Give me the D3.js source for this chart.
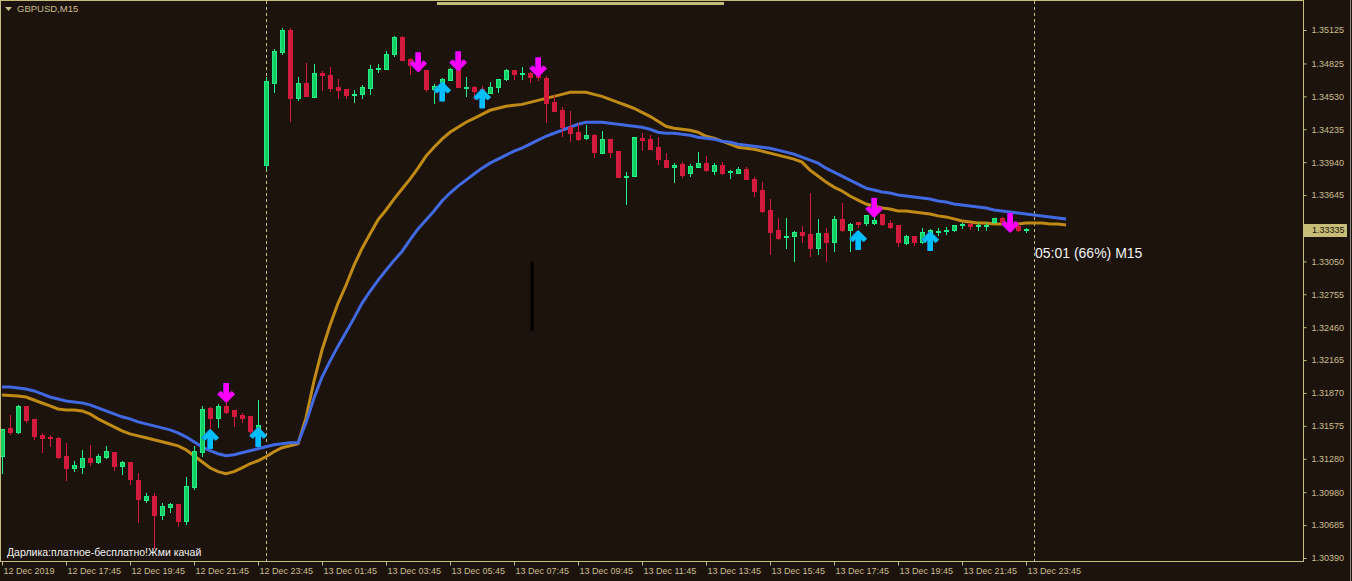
<!DOCTYPE html>
<html>
<head>
<meta charset="utf-8">
<script src="https://cdn.jsdelivr.net/npm/d3@7"></script>
<style>
  body { margin: 0; background: #1b130c; overflow: hidden; }
  svg { display: block; }
</style>
</head>
<body>
<svg id="chart"></svg>
<script>
// Colours of the terminal theme
const palette = {
  bg: "#1b130c",
  frame: "#c6bd7b",
  text: "#cbbd8c",
  bullFill: "#15cf62",
  bullLine: "#22f088",
  bear: "#d41a3c",
  maFast: "#c08b14",
  maSlow: "#4169e1",
  sell: "#ff00ff",
  sellEdge: "#9a18d0",
  buy: "#00bfff",
  buyEdge: "#1a78c8",
  white: "#f2f2f2"
};

// GBPUSD M15, first bar 12 Dec 2019 15:45, one bar per 15 minutes
const firstBar = "2019-12-12 15:45";

// [open, high, low, close]
const ohlc = [
  [1.31298, 1.31539, 1.31146, 1.31539], [1.31548, 1.31673, 1.31494, 1.31512],
  [1.31512, 1.31763, 1.31503, 1.31745], [1.31745, 1.31754, 1.31602, 1.31620],
  [1.31629, 1.31629, 1.31450, 1.31477], [1.31485, 1.31512, 1.31334, 1.31459],
  [1.31468, 1.31494, 1.31387, 1.31459], [1.31459, 1.31477, 1.31280, 1.31289],
  [1.31298, 1.31423, 1.31083, 1.31190], [1.31190, 1.31262, 1.31164, 1.31217],
  [1.31199, 1.31361, 1.31146, 1.31280], [1.31280, 1.31405, 1.31217, 1.31244],
  [1.31244, 1.31325, 1.31235, 1.31298], [1.31289, 1.31396, 1.31280, 1.31343],
  [1.31334, 1.31334, 1.31173, 1.31208], [1.31208, 1.31262, 1.31137, 1.31244],
  [1.31244, 1.31244, 1.31047, 1.31092], [1.31083, 1.31155, 1.30703, 1.30917],
  [1.30908, 1.30971, 1.30882, 1.30944], [1.30944, 1.30971, 1.30471, 1.30775],
  [1.30775, 1.30882, 1.30730, 1.30855], [1.30846, 1.30882, 1.30793, 1.30873],
  [1.30873, 1.30873, 1.30667, 1.30721], [1.30721, 1.31114, 1.30685, 1.31034],
  [1.31025, 1.31396, 1.30998, 1.31343], [1.31334, 1.31754, 1.31298, 1.31718],
  [1.31727, 1.31745, 1.31539, 1.31638], [1.31638, 1.31772, 1.31557, 1.31745],
  [1.31745, 1.31790, 1.31682, 1.31691], [1.31709, 1.31709, 1.31566, 1.31656],
  [1.31664, 1.31691, 1.31602, 1.31638], [1.31656, 1.31664, 1.31494, 1.31521],
  [1.31450, 1.31807, 1.31432, 1.31575], [1.33913, 1.34700, 1.33868, 1.34664],
  [1.34646, 1.34959, 1.34557, 1.34932], [1.34923, 1.35143, 1.34905, 1.35125],
  [1.35125, 1.35143, 1.34298, 1.34512], [1.34512, 1.34700, 1.34485, 1.34646],
  [1.34646, 1.34825, 1.34530, 1.34530], [1.34521, 1.34816, 1.34512, 1.34736],
  [1.34736, 1.34754, 1.34575, 1.34718], [1.34718, 1.34789, 1.34566, 1.34602],
  [1.34611, 1.34682, 1.34503, 1.34584], [1.34593, 1.34593, 1.34503, 1.34539],
  [1.34539, 1.34584, 1.34467, 1.34548], [1.34548, 1.34628, 1.34503, 1.34611],
  [1.34602, 1.34807, 1.34539, 1.34772], [1.34772, 1.34816, 1.34736, 1.34780],
  [1.34772, 1.34941, 1.34763, 1.34905], [1.34905, 1.35071, 1.34879, 1.35062],
  [1.35062, 1.35071, 1.34852, 1.34852], [1.34861, 1.34870, 1.34718, 1.34807],
  [1.34798, 1.34816, 1.34745, 1.34763], [1.34763, 1.34763, 1.34566, 1.34593],
  [1.34593, 1.34637, 1.34458, 1.34620], [1.34620, 1.34691, 1.34584, 1.34682],
  [1.34673, 1.34780, 1.34664, 1.34772], [1.34772, 1.34789, 1.34611, 1.34611],
  [1.34602, 1.34700, 1.34521, 1.34611], [1.34611, 1.34620, 1.34494, 1.34575],
  [1.34593, 1.34620, 1.34548, 1.34575], [1.34557, 1.34655, 1.34548, 1.34611],
  [1.34611, 1.34682, 1.34557, 1.34682], [1.34682, 1.34772, 1.34664, 1.34763],
  [1.34763, 1.34763, 1.34673, 1.34727], [1.34727, 1.34789, 1.34673, 1.34736],
  [1.34736, 1.34745, 1.34646, 1.34700], [1.34709, 1.34718, 1.34664, 1.34700],
  [1.34691, 1.34709, 1.34289, 1.34467], [1.34476, 1.34539, 1.34396, 1.34396],
  [1.34405, 1.34432, 1.34163, 1.34253], [1.34253, 1.34396, 1.34119, 1.34199],
  [1.34208, 1.34289, 1.34128, 1.34146], [1.34155, 1.34271, 1.34137, 1.34181],
  [1.34181, 1.34190, 1.33976, 1.34030], [1.34021, 1.34217, 1.34012, 1.34146],
  [1.34146, 1.34146, 1.33976, 1.34030], [1.34039, 1.34039, 1.33806, 1.33806],
  [1.33806, 1.33850, 1.33555, 1.33815], [1.33815, 1.34163, 1.33806, 1.34163],
  [1.34155, 1.34199, 1.34039, 1.34137], [1.34146, 1.34181, 1.34048, 1.34056],
  [1.34074, 1.34163, 1.33913, 1.33967], [1.33958, 1.34021, 1.33886, 1.33895],
  [1.33895, 1.33931, 1.33752, 1.33913], [1.33922, 1.33940, 1.33797, 1.33824],
  [1.33842, 1.33922, 1.33806, 1.33904], [1.33895, 1.34030, 1.33886, 1.33931],
  [1.33931, 1.33994, 1.33850, 1.33868], [1.33859, 1.33931, 1.33824, 1.33913],
  [1.33913, 1.33940, 1.33824, 1.33842], [1.33850, 1.33868, 1.33788, 1.33859],
  [1.33842, 1.33895, 1.33842, 1.33877], [1.33877, 1.33895, 1.33788, 1.33788],
  [1.33788, 1.33806, 1.33627, 1.33681], [1.33690, 1.33761, 1.33484, 1.33493],
  [1.33502, 1.33609, 1.33104, 1.33305], [1.33323, 1.33440, 1.33243, 1.33252],
  [1.33261, 1.33440, 1.33162, 1.33270], [1.33270, 1.33323, 1.33041, 1.33305],
  [1.33305, 1.33368, 1.33216, 1.33279], [1.33288, 1.33663, 1.33086, 1.33162],
  [1.33162, 1.33431, 1.33104, 1.33297], [1.33297, 1.33350, 1.33041, 1.33216],
  [1.33216, 1.33458, 1.33131, 1.33422], [1.33422, 1.33573, 1.33314, 1.33323],
  [1.33323, 1.33395, 1.33131, 1.33377], [1.33395, 1.33404, 1.33350, 1.33377],
  [1.33386, 1.33466, 1.33368, 1.33458], [1.33386, 1.33466, 1.33377, 1.33413],
  [1.33466, 1.33466, 1.33368, 1.33377], [1.33386, 1.33422, 1.33341, 1.33350],
  [1.33368, 1.33368, 1.33175, 1.33216], [1.33207, 1.33288, 1.33198, 1.33270],
  [1.33270, 1.33270, 1.33189, 1.33216], [1.33216, 1.33350, 1.33207, 1.33305],
  [1.33297, 1.33341, 1.33279, 1.33323], [1.33305, 1.33350, 1.33279, 1.33314],
  [1.33314, 1.33359, 1.33288, 1.33323], [1.33323, 1.33377, 1.33314, 1.33368],
  [1.33368, 1.33395, 1.33341, 1.33377], [1.33377, 1.33395, 1.33332, 1.33359],
  [1.33359, 1.33395, 1.33323, 1.33368], [1.33359, 1.33395, 1.33323, 1.33368],
  [1.33395, 1.33440, 1.33386, 1.33431], [1.33431, 1.33449, 1.33377, 1.33395],
  [1.33404, 1.33422, 1.33350, 1.33368], [1.33359, 1.33368, 1.33314, 1.33323],
  [1.33332, 1.33350, 1.33305, 1.33335]
];

// moving averages as drawn (shifted 5 bars forward), one value per bar from the first bar
const maFast = [
  1.31852, 1.31848, 1.31843, 1.31834, 1.31807, 1.31780, 1.31754, 1.31727, 1.31718, 1.31718,
  1.31709, 1.31682, 1.31638, 1.31602, 1.31566, 1.31530, 1.31503, 1.31485, 1.31468, 1.31450,
  1.31432, 1.31414, 1.31396, 1.31361, 1.31307, 1.31253, 1.31199, 1.31164, 1.31146, 1.31164,
  1.31199, 1.31235, 1.31262, 1.31298, 1.31343, 1.31379, 1.31396, 1.31414, 1.31647, 1.31977,
  1.32255, 1.32478, 1.32674, 1.32836, 1.33014, 1.33166, 1.33296, 1.33422, 1.33511, 1.33609,
  1.33699, 1.33788, 1.33886, 1.33994, 1.34074, 1.34146, 1.34208, 1.34253, 1.34298, 1.34333,
  1.34369, 1.34405, 1.34423, 1.34441, 1.34450, 1.34458, 1.34476, 1.34494, 1.34512, 1.34530,
  1.34548, 1.34566, 1.34566, 1.34566, 1.34548, 1.34530, 1.34503, 1.34476, 1.34450, 1.34423,
  1.34387, 1.34351, 1.34307, 1.34262, 1.34244, 1.34235, 1.34226, 1.34208, 1.34172, 1.34155,
  1.34128, 1.34101, 1.34074, 1.34065, 1.34056, 1.34039, 1.34021, 1.34003, 1.33985, 1.33967,
  1.33940, 1.33868, 1.33815, 1.33761, 1.33716, 1.33681, 1.33636, 1.33600, 1.33564, 1.33546,
  1.33529, 1.33520, 1.33502, 1.33502, 1.33493, 1.33484, 1.33475, 1.33458, 1.33449, 1.33431,
  1.33413, 1.33404, 1.33395, 1.33395, 1.33386, 1.33386, 1.33386, 1.33386, 1.33395, 1.33395,
  1.33395, 1.33386, 1.33386, 1.33377
];

const maSlow = [
  1.31924, 1.31924, 1.31915, 1.31906, 1.31888, 1.31861, 1.31834, 1.31816, 1.31798, 1.31790,
  1.31781, 1.31763, 1.31736, 1.31709, 1.31682, 1.31656, 1.31638, 1.31611, 1.31593, 1.31575,
  1.31557, 1.31539, 1.31512, 1.31477, 1.31432, 1.31387, 1.31352, 1.31325, 1.31307, 1.31316,
  1.31334, 1.31352, 1.31370, 1.31387, 1.31405, 1.31414, 1.31423, 1.31423, 1.31602, 1.31825,
  1.32013, 1.32156, 1.32290, 1.32415, 1.32541, 1.32674, 1.32782, 1.32880, 1.32970, 1.33059,
  1.33139, 1.33243, 1.33341, 1.33422, 1.33502, 1.33591, 1.33663, 1.33725, 1.33779, 1.33833,
  1.33886, 1.33931, 1.33967, 1.34003, 1.34039, 1.34065, 1.34101, 1.34137, 1.34172, 1.34199,
  1.34226, 1.34253, 1.34280, 1.34298, 1.34298, 1.34298, 1.34289, 1.34280, 1.34271, 1.34262,
  1.34253, 1.34235, 1.34208, 1.34199, 1.34199, 1.34190, 1.34181, 1.34163, 1.34155, 1.34146,
  1.34128, 1.34119, 1.34101, 1.34092, 1.34083, 1.34074, 1.34065, 1.34048, 1.34030, 1.34012,
  1.33985, 1.33958, 1.33931, 1.33886, 1.33850, 1.33815, 1.33779, 1.33743, 1.33707, 1.33690,
  1.33672, 1.33663, 1.33645, 1.33636, 1.33627, 1.33618, 1.33609, 1.33591, 1.33582, 1.33564,
  1.33555, 1.33546, 1.33538, 1.33529, 1.33511, 1.33502, 1.33493, 1.33484, 1.33475, 1.33466,
  1.33458, 1.33449, 1.33440, 1.33431
];

// signal arrows: bar number and price of the arrow tip
const sellArrows = [
  { bar: 28, price: 1.31780 }, { bar: 52, price: 1.34745 }, { bar: 57, price: 1.34754 },
  { bar: 67, price: 1.34700 }, { bar: 109, price: 1.33440 }, { bar: 126, price: 1.33305 }
];
const buyArrows = [
  { bar: 26, price: 1.31548 }, { bar: 32, price: 1.31566 }, { bar: 55, price: 1.34664 },
  { bar: 60, price: 1.34602 }, { bar: 107, price: 1.33332 }, { bar: 116, price: 1.33323 }
];

const xTickTimes = [
  "2019-12-12 15:45", "2019-12-12 17:45", "2019-12-12 19:45", "2019-12-12 21:45",
  "2019-12-12 23:45", "2019-12-13 01:45", "2019-12-13 03:45", "2019-12-13 05:45",
  "2019-12-13 07:45", "2019-12-13 09:45", "2019-12-13 11:45", "2019-12-13 13:45",
  "2019-12-13 15:45", "2019-12-13 17:45", "2019-12-13 19:45", "2019-12-13 21:45",
  "2019-12-13 23:45"
];
const xTickLabels = [
  "12 Dec 2019", "12 Dec 17:45", "12 Dec 19:45", "12 Dec 21:45", "12 Dec 23:45",
  "13 Dec 01:45", "13 Dec 03:45", "13 Dec 05:45", "13 Dec 07:45", "13 Dec 09:45",
  "13 Dec 11:45", "13 Dec 13:45", "13 Dec 15:45", "13 Dec 17:45", "13 Dec 19:45",
  "13 Dec 21:45", "13 Dec 23:45"
];
const yTickLabels = [
  "1.35125", "1.34825", "1.34530", "1.34235", "1.33940", "1.33645", "1.33050",
  "1.32755", "1.32460", "1.32165", "1.31870", "1.31575", "1.31280", "1.30980",
  "1.30685", "1.30390"
];

const daySeparators = ["2019-12-13 00:00", "2019-12-14 00:00"];
const lastPrice = 1.33335;
const vLine = { time: "2019-12-13 08:19", top: 1.33050, bottom: 1.32424 };

// Chart dimensions
const W = 1352, H = 581;
const plot = { left: 0, top: 0, right: 1303, bottom: 561 };
const font = "'Liberation Sans', Arial, sans-serif";

const parseTime = d3.timeParse("%Y-%m-%d %H:%M");
const t0 = parseTime(firstBar);
const barTime = i => d3.timeMinute.offset(t0, 15 * i);

const svg = d3.select("#chart")
  .attr("width", W)
  .attr("height", H)
  .style("background", palette.bg);

const x = d3.scaleTime()
  .domain([d3.timeSecond.offset(t0, -225), d3.timeSecond.offset(t0, Math.round(162.875 * 900) - 225)])
  .range([0, 1303]);

const y = d3.scaleLinear()
  .domain([1.30390, 1.35125])
  .range([558, 30]);

svg.append("clipPath").attr("id", "plot-clip")
  .append("rect")
    .attr("x", 1).attr("y", 1)
    .attr("width", plot.right - 1).attr("height", plot.bottom - 1);

// Frame
svg.append("rect")
  .attr("x", 0.5).attr("y", 0.5)
  .attr("width", plot.right).attr("height", plot.bottom)
  .attr("fill", "none")
  .attr("stroke", palette.frame);

// window edge on the right
svg.append("line")
  .attr("x1", W - 1.5).attr("x2", W - 1.5)
  .attr("y1", 0).attr("y2", H)
  .attr("stroke", "#8a8a8a");

// scroll bar mark at the top
svg.append("rect")
  .attr("x", 437).attr("y", 2)
  .attr("width", 287).attr("height", 3)
  .attr("fill", palette.frame);

const g = svg.append("g").attr("clip-path", "url(#plot-clip)");

// day separators
g.selectAll(".sep")
  .data(daySeparators.map(parseTime))
  .join("line")
    .attr("class", "sep")
    .attr("x1", d => Math.round(x(d)) + 0.5)
    .attr("x2", d => Math.round(x(d)) + 0.5)
    .attr("y1", 1).attr("y2", plot.bottom)
    .attr("stroke", palette.frame)
    .attr("stroke-dasharray", "3,3");

// vertical line object
g.append("line")
  .attr("x1", x(parseTime(vLine.time)))
  .attr("x2", x(parseTime(vLine.time)))
  .attr("y1", y(vLine.top))
  .attr("y2", y(vLine.bottom))
  .attr("stroke", "#000000")
  .attr("stroke-width", 3);

// moving averages
const maLine = d3.line()
  .x((d, i) => x(barTime(i)))
  .y(d => y(d));

g.append("path")
  .datum(maFast)
  .attr("fill", "none")
  .attr("stroke", palette.maFast)
  .attr("stroke-width", 3)
  .attr("d", maLine);

g.append("path")
  .datum(maSlow)
  .attr("fill", "none")
  .attr("stroke", palette.maSlow)
  .attr("stroke-width", 3)
  .attr("d", maLine);

// candles
const bars = ohlc.map((d, i) => ({ t: barTime(i), o: d[0], h: d[1], l: d[2], c: d[3] }));

const candle = g.selectAll(".candle")
  .data(bars)
  .join("g")
    .attr("class", "candle")
    .attr("shape-rendering", "crispEdges");

candle.append("line")
  .attr("x1", d => Math.round(x(d.t)) + 0.5)
  .attr("x2", d => Math.round(x(d.t)) + 0.5)
  .attr("y1", d => y(d.h))
  .attr("y2", d => y(d.l))
  .attr("stroke", d => d.c >= d.o ? palette.bullLine : palette.bear);

candle.append("rect")
  .attr("x", d => Math.round(x(d.t)) - 1.5)
  .attr("width", 4)
  .attr("y", d => y(Math.max(d.o, d.c)))
  .attr("height", d => Math.max(0.6, Math.abs(y(d.o) - y(d.c))))
  .attr("fill", d => d.c >= d.o ? palette.bullFill : palette.bear)
  .attr("stroke", d => d.c >= d.o ? palette.bullLine : palette.bear);

// arrows: drawn pointing down with the tip at 0,0
const shaft = "M0,-20V-6";
const chevron = "M-7,-10.4L0,-3.4L7,-10.4";

function drawArrows(data, dir, color, edge) {
  const a = g.selectAll(null)
    .data(data)
    .join("g")
      .attr("transform", d => `translate(${Math.round(x(barTime(d.bar))) + 0.5},${y(d.price)}) scale(1,${dir})`);
  [[edge, -1], [color, 0]].forEach(([col, dx]) => {
    const p = a.append("g").attr("transform", `translate(${dx},0)`);
    p.append("path").attr("d", shaft)
      .attr("fill", "none").attr("stroke", col).attr("stroke-width", 5);
    p.append("path").attr("d", chevron)
      .attr("fill", "none").attr("stroke", col).attr("stroke-width", 4.5)
      .attr("stroke-linejoin", "miter").attr("stroke-miterlimit", 4);
  });
}
drawArrows(sellArrows, 1, palette.sell, palette.sellEdge);
drawArrows(buyArrows, -1, palette.buy, palette.buyEdge);

// X axis
svg.append("g")
  .attr("transform", `translate(0,${plot.bottom + 0.5})`)
  .call(d3.axisBottom(x)
    .tickValues(xTickTimes.map(parseTime))
    .tickFormat((d, i) => xTickLabels[i])
    .tickSize(4)
    .tickSizeOuter(0))
  .call(ax => ax.select(".domain").remove())
  .call(ax => ax.selectAll("line").attr("stroke", palette.frame))
  .call(ax => ax.selectAll("text")
    .attr("text-anchor", "start")
    .attr("x", 1)
    .attr("y", 12)
    .attr("dy", null)
    .attr("fill", palette.text)
    .style("font-family", font)
    .style("font-size", "9px"));

// Y axis
svg.append("g")
  .attr("transform", `translate(${plot.right + 0.5},0)`)
  .call(d3.axisRight(y)
    .tickValues(yTickLabels.map(Number))
    .tickFormat((d, i) => yTickLabels[i])
    .tickSize(3)
    .tickPadding(5)
    .tickSizeOuter(0))
  .call(ax => ax.select(".domain").remove())
  .call(ax => ax.selectAll("line").attr("stroke", palette.frame))
  .call(ax => ax.selectAll("text")
    .attr("fill", palette.text)
    .style("font-family", font)
    .style("font-size", "9px"));

// current price label
const lp = svg.append("g").attr("transform", `translate(${plot.right + 1},${Math.round(y(lastPrice))})`);
lp.append("rect")
  .attr("x", 0).attr("y", -6)
  .attr("width", 43).attr("height", 13)
  .attr("fill", "#c8bd78");
lp.append("text")
  .attr("x", 8).attr("y", 0)
  .attr("dy", "0.35em")
  .attr("fill", palette.bg)
  .style("font-family", font)
  .style("font-size", "9px")
  .text(d3.format(".5f")(lastPrice));

// title
svg.append("path")
  .attr("d", "M5,7L12,7L8.5,11Z")
  .attr("fill", palette.text);
svg.append("text")
  .attr("x", 17).attr("y", 12)
  .attr("fill", palette.text)
  .style("font-family", font)
  .style("font-size", "9.5px")
  .text("GBPUSD,M15");

// bar timer
svg.append("text")
  .attr("x", x(parseTime(daySeparators[1])) + 1)
  .attr("y", 258)
  .attr("fill", palette.white)
  .style("font-family", font)
  .style("font-size", "14px")
  .text("05:01 (66%) M15");

// footer note
svg.append("text")
  .attr("x", 7).attr("y", 556)
  .attr("fill", palette.white)
  .style("font-family", font)
  .style("font-size", "10.5px")
  .text("Дарлика:платное-бесплатно!Жми качай");
</script>
</body>
</html>
